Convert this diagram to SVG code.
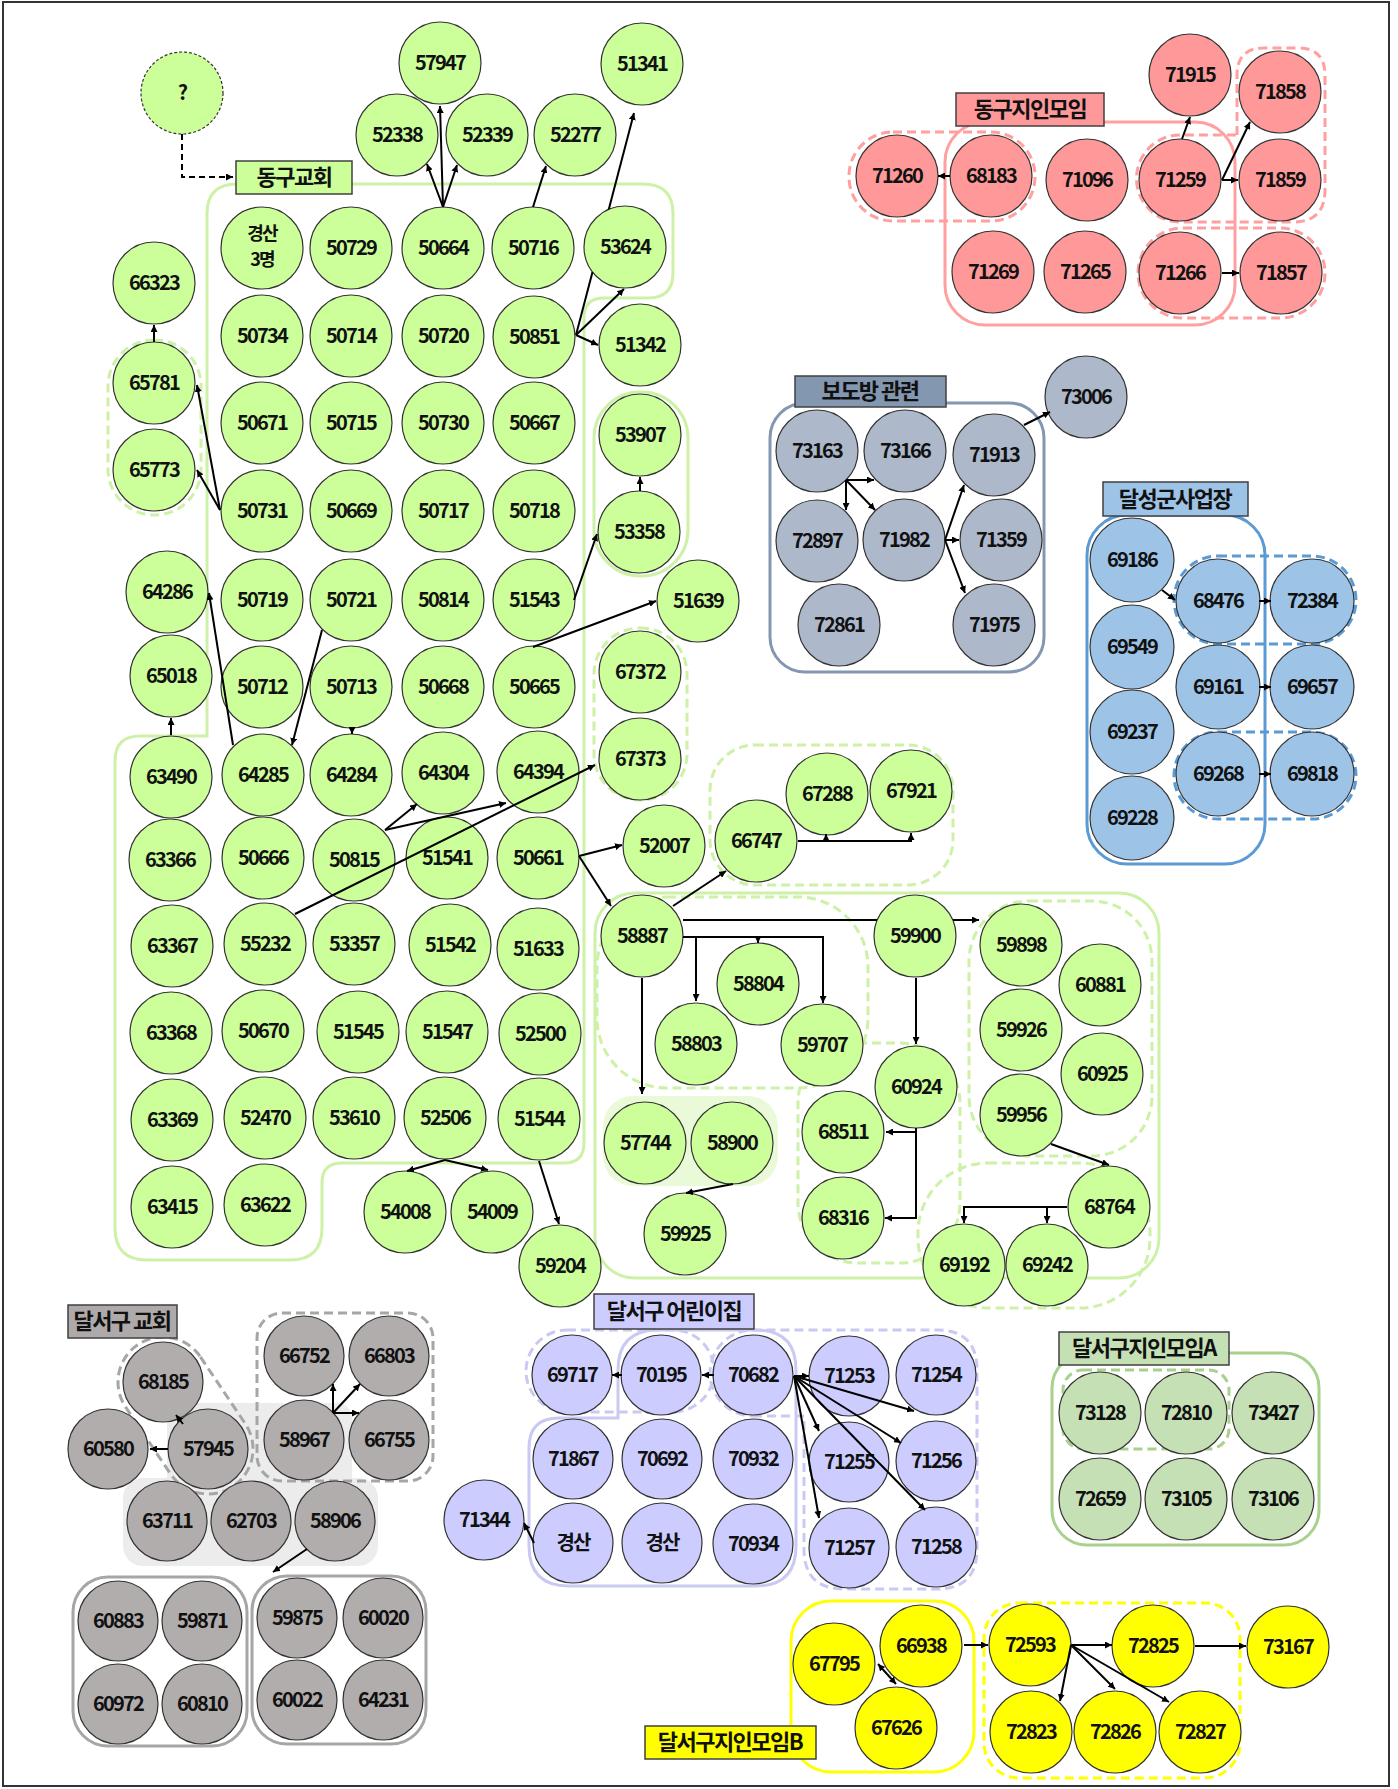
<svg xmlns="http://www.w3.org/2000/svg" width="1398" height="1789" viewBox="0 0 1398 1789">
<style>
.node circle{stroke:#333;stroke-width:1.2}
.g circle{fill:#ccff99}.p circle{fill:#ff9999}.s circle{fill:#adb9ca}.b circle{fill:#9dc3e6}
.k circle{fill:#b1adad}.l circle{fill:#ccccff}.a circle{fill:#c5e0b4}.y circle{fill:#ffff00}
text{font-family:"Noto Sans CJK KR","Noto Sans",sans-serif;font-weight:700;text-anchor:middle;fill:#111}
.node text{font-size:20px;letter-spacing:-1.8px}
.node text.sm{font-size:18px}
.lab rect{stroke:#404040;stroke-width:1.5}
.lab text{font-size:22px;letter-spacing:-1.5px}
.reg{fill:none;stroke-width:3}
.dash{stroke-dasharray:9 5}
.gr{stroke:#cdf1a6}.pk{stroke:#ff9fa0}.sl{stroke:#8497b0}.bl{stroke:#5b9bd5}.gy{stroke:#a6a6a6}.lv{stroke:#c9c9f4}.ag{stroke:#a9d18e}.yl{stroke:#ffff00}
#connectors path{fill:none;stroke:#000;stroke-width:2;marker-end:url(#ah)}
#connectors path.seg{marker-end:none}
</style>
<defs>
<marker id="ah" viewBox="0 0 10 10" refX="10" refY="5" markerWidth="3.5" markerHeight="3.5" orient="auto-start-reverse"><path d="M0,0 L10,5 L0,10 z" fill="#000"/></marker>
</defs>
<rect x="3" y="2" width="1386" height="1784" fill="#fff" stroke="#333" stroke-width="2"/>

<g id="regions">
<path class="reg gr" d="M207,214 Q207,184 237,184 H643 Q673,184 673,214 V273 Q673,298 648,298 H604 Q584,298 584,318 V1143 Q584,1163 564,1163 H342 Q322,1163 322,1183 V1228 Q322,1260 290,1260 H147 Q115,1260 115,1228 V761 Q115,736 140,736 H207 Z"/>
<rect class="reg gr" x="595" y="893" width="564" height="385" rx="40"/>
<rect class="reg gr dash" x="108" y="340" width="93" height="175" rx="46"/>
<rect class="reg gr" x="594" y="392" width="94" height="184" rx="46"/>
<rect class="reg gr dash" x="594" y="628" width="93" height="172" rx="46"/>
<rect class="reg gr dash" x="710" y="745" width="243" height="140" rx="45"/>
<rect class="reg gr dash" x="597" y="897" width="271" height="191" rx="70"/>
<rect x="603" y="1096" width="175" height="90" rx="30" fill="#eafad9"/>
<rect class="reg gr dash" x="969" y="901" width="183" height="255" rx="60"/>
<rect class="reg gr dash" x="798" y="1043" width="162" height="220" rx="60"/>
<rect class="reg gr dash" x="918" y="1163" width="232" height="145" rx="70"/>

<rect class="reg pk" x="945" y="122" width="290" height="203" rx="40"/>
<rect class="reg pk dash" x="849" y="132" width="186" height="89" rx="44"/>
<path class="reg pk dash" d="M1237,135 V75 Q1237,48 1264,48 H1298 Q1325,48 1325,75 V190 Q1325,222 1293,222 H1180 A43.5,43.5 0 0 1 1180,135 Z"/>
<rect class="reg pk dash" x="1138" y="228" width="187" height="90" rx="45"/>

<rect class="reg sl" x="770" y="403" width="274" height="269" rx="35"/>

<rect class="reg bl" x="1087" y="515" width="178" height="349" rx="40" stroke-width="2.5"/>
<rect class="reg bl dash" x="1174" y="556" width="182" height="88" rx="44"/>
<rect class="reg bl dash" x="1174" y="732" width="182" height="87" rx="44"/>

<rect x="167" y="1403" width="185" height="90" rx="15" fill="#ececec"/>
<rect x="123" y="1478" width="255" height="88" rx="20" fill="#ececec"/>
<path class="reg gy dash" d="M200.4,1356.9 L245.4,1423.9 A45,45 0 0 1 170.6,1474.1 L125.6,1407.1 A45,45 0 0 1 200.4,1356.9 Z"/>
<rect class="reg gy dash" x="257" y="1313" width="176" height="168" rx="25"/>
<rect class="reg gy" x="73" y="1577" width="174" height="169" rx="35"/>
<rect class="reg gy" x="252" y="1576" width="174" height="168" rx="35"/>

<rect class="reg lv dash" x="526" y="1330" width="188" height="82" rx="41"/>
<path class="reg lv" d="M618,1370 Q618,1330 658,1330 H756 Q796,1330 796,1370 V1546 Q796,1586 756,1586 H569 Q529,1586 529,1546 V1448 Q529,1418 559,1418 H618 Z"/>
<path class="reg lv dash" d="M753,1416 H804 V1549 Q804,1589 844,1589 H937 Q977,1589 977,1549 V1370 Q977,1330 937,1330 H753 A43,43 0 0 0 753,1416 Z"/>

<rect class="reg ag" x="1052" y="1353" width="267" height="192" rx="35" stroke-width="2.5"/>
<rect class="reg ag dash" x="1063" y="1370" width="166" height="79" rx="20" stroke-width="2.5"/>

<rect class="reg yl" x="791" y="1601" width="183" height="171" rx="40" stroke-width="4"/>
<rect class="reg yl dash" x="984" y="1603" width="256" height="175" rx="35"/>
</g>

<g id="nodes">
<g id="n-question" class="node g"><circle cx="182" cy="93" r="41" stroke-dasharray="3 2"/><text x="182" y="100">?</text></g>
<g id="n-57947" class="node g"><circle cx="440" cy="63" r="41"/><text x="440" y="70">57947</text></g>
<g id="n-52338" class="node g"><circle cx="397" cy="135" r="41"/><text x="397" y="142">52338</text></g>
<g id="n-52339" class="node g"><circle cx="487" cy="135" r="41"/><text x="487" y="142">52339</text></g>
<g id="n-52277" class="node g"><circle cx="575" cy="135" r="41"/><text x="575" y="142">52277</text></g>
<g id="n-51341" class="node g"><circle cx="642" cy="64" r="41"/><text x="642" y="71">51341</text></g>
<g id="n-gyeongsan3" class="node g"><circle cx="262" cy="248" r="41"/><text class="sm" x="262" y="240">경산</text><text class="sm" x="262" y="266">3명</text></g>
<g id="n-50729" class="node g"><circle cx="351" cy="248" r="41"/><text x="351" y="255">50729</text></g>
<g id="n-50664" class="node g"><circle cx="443" cy="248" r="41"/><text x="443" y="255">50664</text></g>
<g id="n-50716" class="node g"><circle cx="533" cy="248" r="41"/><text x="533" y="255">50716</text></g>
<g id="n-53624" class="node g"><circle cx="625" cy="247" r="41"/><text x="625" y="254">53624</text></g>
<g id="n-66323" class="node g"><circle cx="154" cy="283" r="41"/><text x="154" y="290">66323</text></g>
<g id="n-50734" class="node g"><circle cx="262" cy="336" r="41"/><text x="262" y="343">50734</text></g>
<g id="n-50714" class="node g"><circle cx="351" cy="336" r="41"/><text x="351" y="343">50714</text></g>
<g id="n-50720" class="node g"><circle cx="443" cy="336" r="41"/><text x="443" y="343">50720</text></g>
<g id="n-50851" class="node g"><circle cx="534" cy="337" r="41"/><text x="534" y="344">50851</text></g>
<g id="n-51342" class="node g"><circle cx="640" cy="345" r="41"/><text x="640" y="352">51342</text></g>
<g id="n-65781" class="node g"><circle cx="154" cy="383" r="41"/><text x="154" y="390">65781</text></g>
<g id="n-50671" class="node g"><circle cx="262" cy="423" r="41"/><text x="262" y="430">50671</text></g>
<g id="n-50715" class="node g"><circle cx="351" cy="423" r="41"/><text x="351" y="430">50715</text></g>
<g id="n-50730" class="node g"><circle cx="443" cy="423" r="41"/><text x="443" y="430">50730</text></g>
<g id="n-50667" class="node g"><circle cx="534" cy="423" r="41"/><text x="534" y="430">50667</text></g>
<g id="n-53907" class="node g"><circle cx="640" cy="435" r="41"/><text x="640" y="442">53907</text></g>
<g id="n-65773" class="node g"><circle cx="154" cy="470" r="41"/><text x="154" y="477">65773</text></g>
<g id="n-50731" class="node g"><circle cx="262" cy="511" r="41"/><text x="262" y="518">50731</text></g>
<g id="n-50669" class="node g"><circle cx="351" cy="511" r="41"/><text x="351" y="518">50669</text></g>
<g id="n-50717" class="node g"><circle cx="443" cy="511" r="41"/><text x="443" y="518">50717</text></g>
<g id="n-50718" class="node g"><circle cx="534" cy="511" r="41"/><text x="534" y="518">50718</text></g>
<g id="n-53358" class="node g"><circle cx="639" cy="532" r="41"/><text x="639" y="539">53358</text></g>
<g id="n-64286" class="node g"><circle cx="167" cy="592" r="41"/><text x="167" y="599">64286</text></g>
<g id="n-50719" class="node g"><circle cx="262" cy="600" r="41"/><text x="262" y="607">50719</text></g>
<g id="n-50721" class="node g"><circle cx="351" cy="600" r="41"/><text x="351" y="607">50721</text></g>
<g id="n-50814" class="node g"><circle cx="443" cy="600" r="41"/><text x="443" y="607">50814</text></g>
<g id="n-51543" class="node g"><circle cx="534" cy="600" r="41"/><text x="534" y="607">51543</text></g>
<g id="n-51639" class="node g"><circle cx="698" cy="601" r="41"/><text x="698" y="608">51639</text></g>
<g id="n-65018" class="node g"><circle cx="171" cy="676" r="41"/><text x="171" y="683">65018</text></g>
<g id="n-50712" class="node g"><circle cx="262" cy="687" r="41"/><text x="262" y="694">50712</text></g>
<g id="n-50713" class="node g"><circle cx="351" cy="687" r="41"/><text x="351" y="694">50713</text></g>
<g id="n-50668" class="node g"><circle cx="443" cy="687" r="41"/><text x="443" y="694">50668</text></g>
<g id="n-50665" class="node g"><circle cx="534" cy="687" r="41"/><text x="534" y="694">50665</text></g>
<g id="n-67372" class="node g"><circle cx="640" cy="672" r="41"/><text x="640" y="679">67372</text></g>
<g id="n-63490" class="node g"><circle cx="171" cy="777" r="41"/><text x="171" y="784">63490</text></g>
<g id="n-64285" class="node g"><circle cx="263" cy="775" r="41"/><text x="263" y="782">64285</text></g>
<g id="n-64284" class="node g"><circle cx="351" cy="775" r="41"/><text x="351" y="782">64284</text></g>
<g id="n-64304" class="node g"><circle cx="443" cy="773" r="41"/><text x="443" y="780">64304</text></g>
<g id="n-64394" class="node g"><circle cx="538" cy="772" r="41"/><text x="538" y="779">64394</text></g>
<g id="n-67373" class="node g"><circle cx="640" cy="759" r="41"/><text x="640" y="766">67373</text></g>
<g id="n-63366" class="node g"><circle cx="170" cy="860" r="41"/><text x="170" y="867">63366</text></g>
<g id="n-50666" class="node g"><circle cx="263" cy="858" r="41"/><text x="263" y="865">50666</text></g>
<g id="n-50815" class="node g"><circle cx="354" cy="860" r="41"/><text x="354" y="867">50815</text></g>
<g id="n-51541" class="node g"><circle cx="447" cy="858" r="41"/><text x="447" y="865">51541</text></g>
<g id="n-50661" class="node g"><circle cx="538" cy="858" r="41"/><text x="538" y="865">50661</text></g>
<g id="n-52007" class="node g"><circle cx="664" cy="846" r="41"/><text x="664" y="853">52007</text></g>
<g id="n-66747" class="node g"><circle cx="756" cy="841" r="41"/><text x="756" y="848">66747</text></g>
<g id="n-67288" class="node g"><circle cx="827" cy="794" r="41"/><text x="827" y="801">67288</text></g>
<g id="n-67921" class="node g"><circle cx="911" cy="791" r="41"/><text x="911" y="798">67921</text></g>
<g id="n-63367" class="node g"><circle cx="172" cy="946" r="41"/><text x="172" y="953">63367</text></g>
<g id="n-55232" class="node g"><circle cx="265" cy="944" r="41"/><text x="265" y="951">55232</text></g>
<g id="n-53357" class="node g"><circle cx="354" cy="944" r="41"/><text x="354" y="951">53357</text></g>
<g id="n-51542" class="node g"><circle cx="450" cy="945" r="41"/><text x="450" y="952">51542</text></g>
<g id="n-51633" class="node g"><circle cx="538" cy="949" r="41"/><text x="538" y="956">51633</text></g>
<g id="n-58887" class="node g"><circle cx="642" cy="936" r="41"/><text x="642" y="943">58887</text></g>
<g id="n-58804" class="node g"><circle cx="758" cy="984" r="41"/><text x="758" y="991">58804</text></g>
<g id="n-59900" class="node g"><circle cx="915" cy="936" r="41"/><text x="915" y="943">59900</text></g>
<g id="n-59898" class="node g"><circle cx="1021" cy="945" r="41"/><text x="1021" y="952">59898</text></g>
<g id="n-60881" class="node g"><circle cx="1100" cy="985" r="41"/><text x="1100" y="992">60881</text></g>
<g id="n-63368" class="node g"><circle cx="171" cy="1033" r="41"/><text x="171" y="1040">63368</text></g>
<g id="n-50670" class="node g"><circle cx="263" cy="1031" r="41"/><text x="263" y="1038">50670</text></g>
<g id="n-51545" class="node g"><circle cx="358" cy="1032" r="41"/><text x="358" y="1039">51545</text></g>
<g id="n-51547" class="node g"><circle cx="447" cy="1032" r="41"/><text x="447" y="1039">51547</text></g>
<g id="n-52500" class="node g"><circle cx="540" cy="1034" r="41"/><text x="540" y="1041">52500</text></g>
<g id="n-58803" class="node g"><circle cx="696" cy="1044" r="41"/><text x="696" y="1051">58803</text></g>
<g id="n-59707" class="node g"><circle cx="822" cy="1045" r="41"/><text x="822" y="1052">59707</text></g>
<g id="n-60924" class="node g"><circle cx="916" cy="1087" r="41"/><text x="916" y="1094">60924</text></g>
<g id="n-59926" class="node g"><circle cx="1021" cy="1030" r="41"/><text x="1021" y="1037">59926</text></g>
<g id="n-60925" class="node g"><circle cx="1102" cy="1074" r="41"/><text x="1102" y="1081">60925</text></g>
<g id="n-63369" class="node g"><circle cx="172" cy="1120" r="41"/><text x="172" y="1127">63369</text></g>
<g id="n-52470" class="node g"><circle cx="265" cy="1118" r="41"/><text x="265" y="1125">52470</text></g>
<g id="n-53610" class="node g"><circle cx="354" cy="1118" r="41"/><text x="354" y="1125">53610</text></g>
<g id="n-52506" class="node g"><circle cx="445" cy="1118" r="41"/><text x="445" y="1125">52506</text></g>
<g id="n-51544" class="node g"><circle cx="539" cy="1119" r="41"/><text x="539" y="1126">51544</text></g>
<g id="n-57744" class="node g"><circle cx="645" cy="1143" r="41"/><text x="645" y="1150">57744</text></g>
<g id="n-58900" class="node g"><circle cx="732" cy="1143" r="41"/><text x="732" y="1150">58900</text></g>
<g id="n-68511" class="node g"><circle cx="843" cy="1132" r="41"/><text x="843" y="1139">68511</text></g>
<g id="n-59956" class="node g"><circle cx="1021" cy="1115" r="41"/><text x="1021" y="1122">59956</text></g>
<g id="n-63415" class="node g"><circle cx="172" cy="1207" r="41"/><text x="172" y="1214">63415</text></g>
<g id="n-63622" class="node g"><circle cx="265" cy="1205" r="41"/><text x="265" y="1212">63622</text></g>
<g id="n-54008" class="node g"><circle cx="405" cy="1212" r="41"/><text x="405" y="1219">54008</text></g>
<g id="n-54009" class="node g"><circle cx="492" cy="1212" r="41"/><text x="492" y="1219">54009</text></g>
<g id="n-59204" class="node g"><circle cx="560" cy="1266" r="41"/><text x="560" y="1273">59204</text></g>
<g id="n-59925" class="node g"><circle cx="685" cy="1234" r="41"/><text x="685" y="1241">59925</text></g>
<g id="n-68316" class="node g"><circle cx="843" cy="1218" r="41"/><text x="843" y="1225">68316</text></g>
<g id="n-68764" class="node g"><circle cx="1109" cy="1207" r="41"/><text x="1109" y="1214">68764</text></g>
<g id="n-69192" class="node g"><circle cx="964" cy="1265" r="41"/><text x="964" y="1272">69192</text></g>
<g id="n-69242" class="node g"><circle cx="1047" cy="1265" r="41"/><text x="1047" y="1272">69242</text></g>

<g id="n-71915" class="node p"><circle cx="1190" cy="75" r="41"/><text x="1190" y="82">71915</text></g>
<g id="n-71858" class="node p"><circle cx="1280" cy="92" r="41"/><text x="1280" y="99">71858</text></g>
<g id="n-71260" class="node p"><circle cx="897" cy="176" r="41"/><text x="897" y="183">71260</text></g>
<g id="n-68183" class="node p"><circle cx="991" cy="176" r="41"/><text x="991" y="183">68183</text></g>
<g id="n-71096" class="node p"><circle cx="1087" cy="180" r="41"/><text x="1087" y="187">71096</text></g>
<g id="n-71259" class="node p"><circle cx="1180" cy="180" r="41"/><text x="1180" y="187">71259</text></g>
<g id="n-71859" class="node p"><circle cx="1280" cy="180" r="41"/><text x="1280" y="187">71859</text></g>
<g id="n-71269" class="node p"><circle cx="993" cy="272" r="41"/><text x="993" y="279">71269</text></g>
<g id="n-71265" class="node p"><circle cx="1085" cy="272" r="41"/><text x="1085" y="279">71265</text></g>
<g id="n-71266" class="node p"><circle cx="1180" cy="273" r="41"/><text x="1180" y="280">71266</text></g>
<g id="n-71857" class="node p"><circle cx="1281" cy="273" r="41"/><text x="1281" y="280">71857</text></g>

<g id="n-73006" class="node s"><circle cx="1086" cy="397" r="41"/><text x="1086" y="404">73006</text></g>
<g id="n-73163" class="node s"><circle cx="817" cy="451" r="41"/><text x="817" y="458">73163</text></g>
<g id="n-73166" class="node s"><circle cx="905" cy="451" r="41"/><text x="905" y="458">73166</text></g>
<g id="n-71913" class="node s"><circle cx="994" cy="455" r="41"/><text x="994" y="462">71913</text></g>
<g id="n-72897" class="node s"><circle cx="817" cy="541" r="41"/><text x="817" y="548">72897</text></g>
<g id="n-71982" class="node s"><circle cx="904" cy="540" r="41"/><text x="904" y="547">71982</text></g>
<g id="n-71359" class="node s"><circle cx="1001" cy="540" r="41"/><text x="1001" y="547">71359</text></g>
<g id="n-72861" class="node s"><circle cx="839" cy="625" r="41"/><text x="839" y="632">72861</text></g>
<g id="n-71975" class="node s"><circle cx="994" cy="625" r="41"/><text x="994" y="632">71975</text></g>

<g id="n-69186" class="node b"><circle cx="1132" cy="560" r="42"/><text x="1132" y="567">69186</text></g>
<g id="n-68476" class="node b"><circle cx="1218" cy="601" r="42"/><text x="1218" y="608">68476</text></g>
<g id="n-72384" class="node b"><circle cx="1312" cy="601" r="42"/><text x="1312" y="608">72384</text></g>
<g id="n-69549" class="node b"><circle cx="1132" cy="647" r="42"/><text x="1132" y="654">69549</text></g>
<g id="n-69161" class="node b"><circle cx="1218" cy="687" r="42"/><text x="1218" y="694">69161</text></g>
<g id="n-69657" class="node b"><circle cx="1312" cy="687" r="42"/><text x="1312" y="694">69657</text></g>
<g id="n-69237" class="node b"><circle cx="1132" cy="732" r="42"/><text x="1132" y="739">69237</text></g>
<g id="n-69268" class="node b"><circle cx="1218" cy="774" r="42"/><text x="1218" y="781">69268</text></g>
<g id="n-69818" class="node b"><circle cx="1312" cy="774" r="42"/><text x="1312" y="781">69818</text></g>
<g id="n-69228" class="node b"><circle cx="1132" cy="818" r="42"/><text x="1132" y="825">69228</text></g>

<g id="n-68185" class="node k"><circle cx="163" cy="1382" r="40"/><text x="163" y="1389">68185</text></g>
<g id="n-60580" class="node k"><circle cx="108" cy="1449" r="40"/><text x="108" y="1456">60580</text></g>
<g id="n-57945" class="node k"><circle cx="208" cy="1449" r="40"/><text x="208" y="1456">57945</text></g>
<g id="n-66752" class="node k"><circle cx="304" cy="1356" r="40"/><text x="304" y="1363">66752</text></g>
<g id="n-66803" class="node k"><circle cx="389" cy="1356" r="40"/><text x="389" y="1363">66803</text></g>
<g id="n-58967" class="node k"><circle cx="304" cy="1440" r="40"/><text x="304" y="1447">58967</text></g>
<g id="n-66755" class="node k"><circle cx="389" cy="1440" r="40"/><text x="389" y="1447">66755</text></g>
<g id="n-63711" class="node k"><circle cx="167" cy="1521" r="40"/><text x="167" y="1528">63711</text></g>
<g id="n-62703" class="node k"><circle cx="251" cy="1521" r="40"/><text x="251" y="1528">62703</text></g>
<g id="n-58906" class="node k"><circle cx="335" cy="1521" r="40"/><text x="335" y="1528">58906</text></g>
<g id="n-60883" class="node k"><circle cx="118" cy="1621" r="40"/><text x="118" y="1628">60883</text></g>
<g id="n-59871" class="node k"><circle cx="202" cy="1621" r="40"/><text x="202" y="1628">59871</text></g>
<g id="n-60972" class="node k"><circle cx="118" cy="1704" r="40"/><text x="118" y="1711">60972</text></g>
<g id="n-60810" class="node k"><circle cx="202" cy="1704" r="40"/><text x="202" y="1711">60810</text></g>
<g id="n-59875" class="node k"><circle cx="297" cy="1618" r="40"/><text x="297" y="1625">59875</text></g>
<g id="n-60020" class="node k"><circle cx="383" cy="1618" r="40"/><text x="383" y="1625">60020</text></g>
<g id="n-60022" class="node k"><circle cx="297" cy="1700" r="40"/><text x="297" y="1707">60022</text></g>
<g id="n-64231" class="node k"><circle cx="383" cy="1700" r="40"/><text x="383" y="1707">64231</text></g>

<g id="n-69717" class="node l"><circle cx="572" cy="1375" r="40"/><text x="572" y="1382">69717</text></g>
<g id="n-70195" class="node l"><circle cx="661" cy="1375" r="40"/><text x="661" y="1382">70195</text></g>
<g id="n-70682" class="node l"><circle cx="753" cy="1375" r="40"/><text x="753" y="1382">70682</text></g>
<g id="n-71253" class="node l"><circle cx="849" cy="1376" r="40"/><text x="849" y="1383">71253</text></g>
<g id="n-71254" class="node l"><circle cx="936" cy="1375" r="40"/><text x="936" y="1382">71254</text></g>
<g id="n-71867" class="node l"><circle cx="573" cy="1459" r="40"/><text x="573" y="1466">71867</text></g>
<g id="n-70692" class="node l"><circle cx="662" cy="1459" r="40"/><text x="662" y="1466">70692</text></g>
<g id="n-70932" class="node l"><circle cx="753" cy="1459" r="40"/><text x="753" y="1466">70932</text></g>
<g id="n-71255" class="node l"><circle cx="849" cy="1462" r="40"/><text x="849" y="1469">71255</text></g>
<g id="n-71256" class="node l"><circle cx="936" cy="1461" r="40"/><text x="936" y="1468">71256</text></g>
<g id="n-71344" class="node l"><circle cx="484" cy="1520" r="40"/><text x="484" y="1527">71344</text></g>
<g id="n-gyeongsan-1" class="node l"><circle cx="573" cy="1543" r="40"/><text x="573" y="1550">경산</text></g>
<g id="n-gyeongsan-2" class="node l"><circle cx="662" cy="1543" r="40"/><text x="662" y="1550">경산</text></g>
<g id="n-70934" class="node l"><circle cx="753" cy="1544" r="40"/><text x="753" y="1551">70934</text></g>
<g id="n-71257" class="node l"><circle cx="849" cy="1548" r="40"/><text x="849" y="1555">71257</text></g>
<g id="n-71258" class="node l"><circle cx="936" cy="1547" r="40"/><text x="936" y="1554">71258</text></g>

<g id="n-73128" class="node a"><circle cx="1100" cy="1413" r="41"/><text x="1100" y="1420">73128</text></g>
<g id="n-72810" class="node a"><circle cx="1186" cy="1413" r="41"/><text x="1186" y="1420">72810</text></g>
<g id="n-73427" class="node a"><circle cx="1273" cy="1413" r="41"/><text x="1273" y="1420">73427</text></g>
<g id="n-72659" class="node a"><circle cx="1100" cy="1499" r="41"/><text x="1100" y="1506">72659</text></g>
<g id="n-73105" class="node a"><circle cx="1186" cy="1499" r="41"/><text x="1186" y="1506">73105</text></g>
<g id="n-73106" class="node a"><circle cx="1273" cy="1499" r="41"/><text x="1273" y="1506">73106</text></g>

<g id="n-67795" class="node y"><circle cx="834" cy="1664" r="41"/><text x="834" y="1671">67795</text></g>
<g id="n-66938" class="node y"><circle cx="921" cy="1646" r="41"/><text x="921" y="1653">66938</text></g>
<g id="n-67626" class="node y"><circle cx="896" cy="1728" r="41"/><text x="896" y="1735">67626</text></g>
<g id="n-72593" class="node y"><circle cx="1030" cy="1645" r="41"/><text x="1030" y="1652">72593</text></g>
<g id="n-72825" class="node y"><circle cx="1153" cy="1646" r="41"/><text x="1153" y="1653">72825</text></g>
<g id="n-73167" class="node y"><circle cx="1288" cy="1647" r="41"/><text x="1288" y="1654">73167</text></g>
<g id="n-72823" class="node y"><circle cx="1031" cy="1732" r="41"/><text x="1031" y="1739">72823</text></g>
<g id="n-72826" class="node y"><circle cx="1115" cy="1732" r="41"/><text x="1115" y="1739">72826</text></g>
<g id="n-72827" class="node y"><circle cx="1200" cy="1732" r="41"/><text x="1200" y="1739">72827</text></g>
</g>

<g id="connectors">
<path d="M182,134 V177 H233" stroke-dasharray="6 4"/>
<path d="M443,207 L440,106"/>
<path d="M443,207 L427,164"/>
<path d="M443,207 L457,165"/>
<path d="M533,207 L546,166"/>
<path class="seg" d="M576,335 L592.5,272"/>
<path d="M608.8,209.3 L634,113"/>
<path d="M576,335 L624,289"/>
<path d="M576,335 L598,345"/>
<path d="M154,342 L154,325"/>
<path d="M220,510 L197,385"/>
<path d="M220,510 L197,470"/>
<path d="M233,745 L209,593"/>
<path d="M322,630 L292,745"/>
<path d="M352,727 L352,734"/>
<path d="M171,735 L171,718"/>
<path d="M385,830 L417,804"/>
<path d="M385,830 L506,803"/>
<path d="M295,914 L595,765"/>
<path d="M574,600 L597,534"/>
<path d="M533,647 L656,601"/>
<path d="M640,491 L640,477"/>
<path d="M579,856 L622,845"/>
<path d="M579,856 L611,906"/>
<path d="M673,906 L726,871"/>
<path d="M798,841 H911 V833"/>
<path d="M826,841 V834"/>
<path class="seg" d="M683,920 H877"/>
<path d="M953,920 H979"/>
<path d="M683,937 H823 V1003"/>
<path d="M758,937 V943"/>
<path d="M696,937 V1001"/>
<path d="M642,978 V1094"/>
<path d="M733,1184 L686,1193"/>
<path d="M916,978 V1044"/>
<path d="M916,1128 V1218 H885"/>
<path d="M916,1132 H886"/>
<path d="M1051,1144 L1109,1165"/>
<path d="M1067,1207 H964 V1223"/>
<path d="M1047,1207 V1223"/>
<path d="M445,1160 L407,1171"/>
<path d="M445,1160 L488,1170"/>
<path d="M539,1161 L559,1224"/>
<path d="M950,176 L938,176"/>
<path d="M1182,139 L1190,117"/>
<path d="M1222,180 L1250,122"/>
<path d="M1222,180 L1238,180"/>
<path d="M1222,273 L1239,273"/>
<path d="M1024,425 L1050,412"/>
<path d="M846,480 L874,480"/>
<path d="M846,480 V510"/>
<path d="M846,480 L875,510"/>
<path d="M945,540 L964,485"/>
<path d="M945,540 L959,540"/>
<path d="M945,540 L965,593"/>
<path d="M1162,590 L1175,600"/>
<path d="M1259,601 L1271,601"/>
<path d="M1259,687 L1271,687"/>
<path d="M1259,774 L1271,774"/>
<path d="M168,1449 L150,1449"/>
<path d="M183,1424 L176,1415"/>
<path d="M333,1413 V1384"/>
<path d="M333,1413 L360,1384"/>
<path d="M333,1413 H359"/>
<path d="M307,1549 L273,1572"/>
<path d="M714,1375 L702,1375"/>
<path d="M622,1375 L612,1375"/>
<path d="M794,1376 L809,1376"/>
<path d="M794,1376 L914,1411"/>
<path d="M794,1376 L901,1443"/>
<path d="M794,1376 L925,1510"/>
<path d="M794,1376 L819,1431"/>
<path d="M794,1376 L819,1518"/>
<path d="M534,1543 L524,1523"/>
<path d="M964,1645 L988,1645"/>
<path d="M1071,1645 L1112,1645"/>
<path d="M1195,1646 L1246,1646"/>
<path d="M1071,1645 L1060,1701"/>
<path d="M1071,1645 L1115,1689"/>
<path d="M1071,1645 L1169,1702"/>
<path d="M878,1664 L896,1684" marker-start="url(#ah)"/>
</g>

<g id="labels">
<g id="lab-donggu-church" class="lab"><rect x="236" y="161" width="116" height="33" fill="#ccff99"/><text x="294" y="185">동구교회</text></g>
<g id="lab-donggu-friends" class="lab"><rect x="956" y="93" width="148" height="33" fill="#ff9999"/><text x="1030" y="117">동구지인모임</text></g>
<g id="lab-bodobang" class="lab"><rect x="795" y="376" width="151" height="31" fill="#8497b0"/><text x="870" y="399">보도방 관련</text></g>
<g id="lab-dalseong" class="lab"><rect x="1103" y="482" width="145" height="34" fill="#9dc3e6"/><text x="1175" y="507">달성군사업장</text></g>
<g id="lab-dalseo-church" class="lab"><rect x="68" y="1305" width="109" height="33" fill="#aeaaaa"/><text x="122" y="1329">달서구 교회</text></g>
<g id="lab-dalseo-daycare" class="lab"><rect x="594" y="1294" width="160" height="35" fill="#ccccff"/><text x="674" y="1319">달서구 어린이집</text></g>
<g id="lab-dalseo-a" class="lab"><rect x="1059" y="1332" width="170" height="33" fill="#c5e0b4"/><text x="1144" y="1356">달서구지인모임A</text></g>
<g id="lab-dalseo-b" class="lab"><rect x="645" y="1726" width="171" height="33" fill="#ffff00"/><text x="730" y="1750">달서구지인모임B</text></g>
</g>
</svg>
